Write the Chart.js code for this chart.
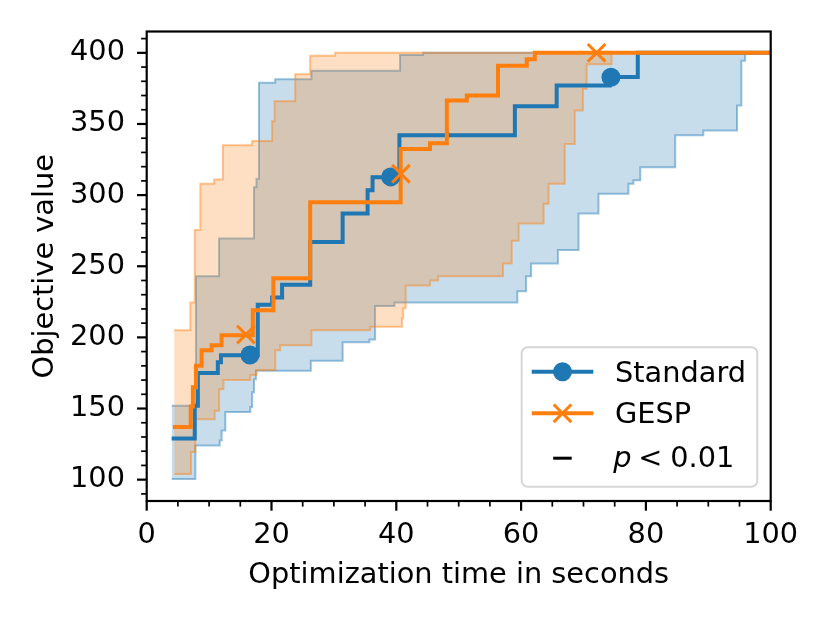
<!DOCTYPE html>
<html><head><meta charset="utf-8">
<script src="https://cdn.jsdelivr.net/npm/chart.js@4.4.1/dist/chart.umd.min.js"></script>
<style>html,body{margin:0;padding:0;background:#fff;} #wrap{width:830px;height:623px;position:relative;}</style>
</head><body><div id="wrap"><canvas id="c"></canvas></div>
<script>
// ---- data (step change points: value y starts at x) ----
const stdMedX  = [4.0, 7.7, 8.2, 11.4, 11.9, 17.8, 20.1, 21.7, 26.2, 31.4, 35.4, 36.2, 40.5, 59.0, 65.7, 74.2, 78.7, 100];
const stdMedY  = [129, 152, 175, 182.5, 187.5, 223, 228, 237, 267, 287, 303.5, 312.5, 342, 362.5, 377, 383, 400, 400];
const gespMedX = [4.2, 7.05, 7.4, 7.9, 8.8, 10.4, 12.0, 17.0, 20.3, 26.2, 40.7, 45.4, 48.1, 51.3, 56.3, 60.9, 62.2, 100];
const gespMedY = [137, 151.5, 165, 180, 191, 194.5, 201.5, 219, 241.5, 295, 332.5, 336.5, 366.5, 370, 391, 395.5, 400, 400];
const stdHiX   = [4.0, 7.9, 11.6, 17.2, 17.6, 18.0, 20.6, 26.4, 40.6, 44.3, 95.9];
const stdHiY   = [152, 243, 269.5, 305.5, 311.5, 379, 381.5, 387.5, 398.5, 400, 400];
const stdLoX   = [4.0, 7.8, 11.7, 12.0, 12.6, 16.6, 16.9, 17.2, 17.5, 26.3, 31.4, 35.7, 36.6, 39.7, 59.4, 60.8, 61.6, 65.9, 69.2, 72.4, 77.2, 78.0, 79.1, 84.7, 89.2, 94.6, 95.3, 95.9];
const stdLoY   = [100.5, 124, 127.5, 134.5, 147.5, 151, 161.5, 170.5, 176.5, 183.5, 196.5, 198.5, 222, 224.5, 232.5, 243, 252, 261.5, 287, 301, 308, 310.5, 319.5, 342, 345.5, 363, 394.5, 400];
const gespHiX  = [4.4, 7.0, 7.7, 8.6, 10.8, 12.2, 16.9, 20.1, 20.5, 23.8, 26.2, 30.2, 74.5];
const gespHiY  = [205, 224.5, 275.5, 308, 311, 335, 338, 352, 366, 385, 398, 400, 400];
const gespLoX  = [4.4, 7.1, 7.8, 10.9, 11.6, 12.3, 16.6, 17.6, 20.6, 21.4, 26.4, 35.8, 40.9, 41.1, 41.5, 45.4, 46.7, 57.1, 58.5, 59.6, 63.6, 64.4, 67.0, 68.6, 69.9, 70.5, 74.5];
const gespLoY  = [104, 119.5, 142.5, 148.5, 163.5, 170, 173.5, 177, 191, 194.5, 205, 207.5, 213.5, 220.5, 236.5, 240, 243, 252, 268, 280, 294, 308, 336, 359.5, 374.5, 392, 400];
const stdMarkX  = [16.55, 39.1, 74.4];
const stdMarkY  = [187.6, 312.8, 382.8];
const gespMarkX = [15.9, 40.75, 72.1];
const gespMarkY = [202, 315, 400];
const legendLabels = ['Standard', 'GESP'];

function pts(xs, ys){ return xs.map((x, i) => ({x: x, y: ys[i]})); }

const BLUE = '#1f77b4', ORANGE = '#ff7f0e';
const FONT = '"DejaVu Sans", sans-serif';
const FS = 28.8;

const decor = {
  id: 'decor',
  afterDatasetsDraw(chart) {
    const {ctx, chartArea: a, scales: {x, y}} = chart;
    ctx.save();
    ctx.strokeStyle = '#000';
    for (let v = 0; v <= 100; v += 5) {
      const major = v % 20 === 0;
      const px = x.getPixelForValue(v);
      ctx.lineWidth = major ? 2.2 : 1.7;
      ctx.beginPath(); ctx.moveTo(px, a.bottom); ctx.lineTo(px, a.bottom + (major ? 9.7 : 5.6)); ctx.stroke();
    }
    for (let v = 90; v <= 410; v += 10) {
      const major = v % 50 === 0;
      const py = y.getPixelForValue(v);
      ctx.lineWidth = major ? 2.2 : 1.7;
      ctx.beginPath(); ctx.moveTo(a.left, py); ctx.lineTo(a.left - (major ? 9.7 : 5.6), py); ctx.stroke();
    }
    ctx.lineWidth = 2.2;
    ctx.strokeRect(a.left, a.top, a.right - a.left, a.bottom - a.top);
    ctx.restore();
  },
  afterDraw(chart) {
    const {ctx, chartArea: a} = chart;
    const w = 235.6, h = 139.4;
    const L = a.right - 13.4 - w, T = a.bottom - 14.3 - h;
    ctx.save();
    ctx.beginPath();
    ctx.roundRect(L, T, w, h, 6);
    ctx.fillStyle = 'rgba(255,255,255,0.8)';
    ctx.fill();
    ctx.lineWidth = 2;
    ctx.strokeStyle = 'rgba(204,204,204,0.8)';
    ctx.stroke();
    const rows = [T + 24.4, T + 66, T + 109.4];
    const hx0 = L + 10, hx1 = L + 71.6, mx = L + 40.8;
    ctx.lineWidth = 4; ctx.strokeStyle = BLUE;
    ctx.beginPath(); ctx.moveTo(hx0, rows[0]); ctx.lineTo(hx1, rows[0]); ctx.stroke();
    ctx.fillStyle = BLUE; ctx.beginPath(); ctx.arc(mx, rows[0], 9.5, 0, Math.PI * 2); ctx.fill();
    ctx.strokeStyle = ORANGE;
    ctx.beginPath(); ctx.moveTo(hx0, rows[1]); ctx.lineTo(hx1, rows[1]); ctx.stroke();
    ctx.lineWidth = 3; const d = 8.8;
    ctx.beginPath();
    ctx.moveTo(mx - d, rows[1] - d); ctx.lineTo(mx + d, rows[1] + d);
    ctx.moveTo(mx + d, rows[1] - d); ctx.lineTo(mx - d, rows[1] + d);
    ctx.stroke();
    ctx.strokeStyle = '#000'; ctx.lineWidth = 3;
    ctx.beginPath(); ctx.moveTo(L + 31.5, rows[2] + 1.5); ctx.lineTo(L + 50, rows[2] + 1.5); ctx.stroke();
    ctx.fillStyle = '#000';
    ctx.textBaseline = 'alphabetic'; ctx.textAlign = 'left';
    ctx.font = FS + 'px ' + FONT;
    ctx.fillText(legendLabels[0], L + 93.3, rows[0] + 10);
    ctx.fillText(legendLabels[1], L + 93.3, rows[1] + 10);
    ctx.font = 'italic ' + FS + 'px ' + FONT;
    ctx.fillText('p', L + 91.5, rows[2] + 10);
    ctx.font = FS + 'px ' + FONT;
    ctx.fillText('<', L + 116.5, rows[2] + 10);
    ctx.fillText('0.01', L + 148.5, rows[2] + 10);
    ctx.restore();
  }
};

const bandLine = (c) => ({pointRadius: 0, borderWidth: 2, stepped: 'before', tension: 0, borderColor: c});

new Chart(document.getElementById('c'), {
  type: 'line',
  data: {
    datasets: [
      Object.assign({label: 'stdHi', data: pts(stdHiX, stdHiY), fill: '+1', backgroundColor: 'rgba(31,119,180,0.25)', order: 10}, bandLine('rgba(31,119,180,0.45)')),
      Object.assign({label: 'stdLo', data: pts(stdLoX, stdLoY), fill: false, order: 9}, bandLine('rgba(31,119,180,0.45)')),
      Object.assign({label: 'gespHi', data: pts(gespHiX, gespHiY), fill: '+1', backgroundColor: 'rgba(255,127,14,0.25)', order: 8}, bandLine('rgba(255,127,14,0.45)')),
      Object.assign({label: 'gespLo', data: pts(gespLoX, gespLoY), fill: false, order: 7}, bandLine('rgba(255,127,14,0.45)')),
      {label: 'Standard', data: pts(stdMedX, stdMedY), borderColor: BLUE, borderWidth: 4, pointRadius: 0, stepped: 'before', fill: false, order: 4},
      {label: 'GESP', data: pts(gespMedX, gespMedY), borderColor: ORANGE, borderWidth: 4, pointRadius: 0, stepped: 'before', fill: false, order: 3},
      {label: 'stdMarks', data: pts(stdMarkX, stdMarkY), showLine: false, pointStyle: 'circle', pointRadius: 9.5, pointBorderWidth: 0, pointBackgroundColor: BLUE, pointBorderColor: BLUE, order: 2},
      {label: 'gespMarks', data: pts(gespMarkX, gespMarkY), showLine: false, pointStyle: 'crossRot', pointRadius: 12.5, pointBorderWidth: 3, pointBorderColor: ORANGE, pointBackgroundColor: ORANGE, order: 1}
    ]
  },
  options: {
    responsive: true, maintainAspectRatio: false, animation: false, devicePixelRatio: 1,
    layout: {padding: {left: 0, right: 59.3, top: 31.5, bottom: 0}},
    plugins: {legend: {display: false}, tooltip: {enabled: false}},
    elements: {line: {tension: 0}},
    scales: {
      x: {
        type: 'linear', min: 0, max: 100,
        grid: {display: false, drawTicks: false},
        border: {display: false},
        ticks: {stepSize: 20, color: '#000', font: {family: FONT, size: FS}, padding: 17.2, maxRotation: 0, includeBounds: false},
        title: {display: true, text: 'Optimization time in seconds', color: '#000', font: {family: FONT, size: FS}, padding: {top: 0, bottom: 30.5}},
        afterFit(s) { s.height = 122; s.paddingLeft = 0; s.paddingRight = 0; }
      },
      y: {
        type: 'linear', min: 85, max: 415,
        grid: {display: false, drawTicks: false},
        border: {display: false},
        ticks: {stepSize: 50, color: '#000', font: {family: FONT, size: FS}, padding: 21.7, includeBounds: false},
        title: {display: true, text: 'Objective value', color: '#000', font: {family: FONT, size: FS}, padding: {top: 28, bottom: 0}},
        afterFit(s) { s.width = 146.7; s.paddingTop = 0; s.paddingBottom = 0; }
      }
    }
  },
  plugins: [decor]
});
</script>
</body></html>
